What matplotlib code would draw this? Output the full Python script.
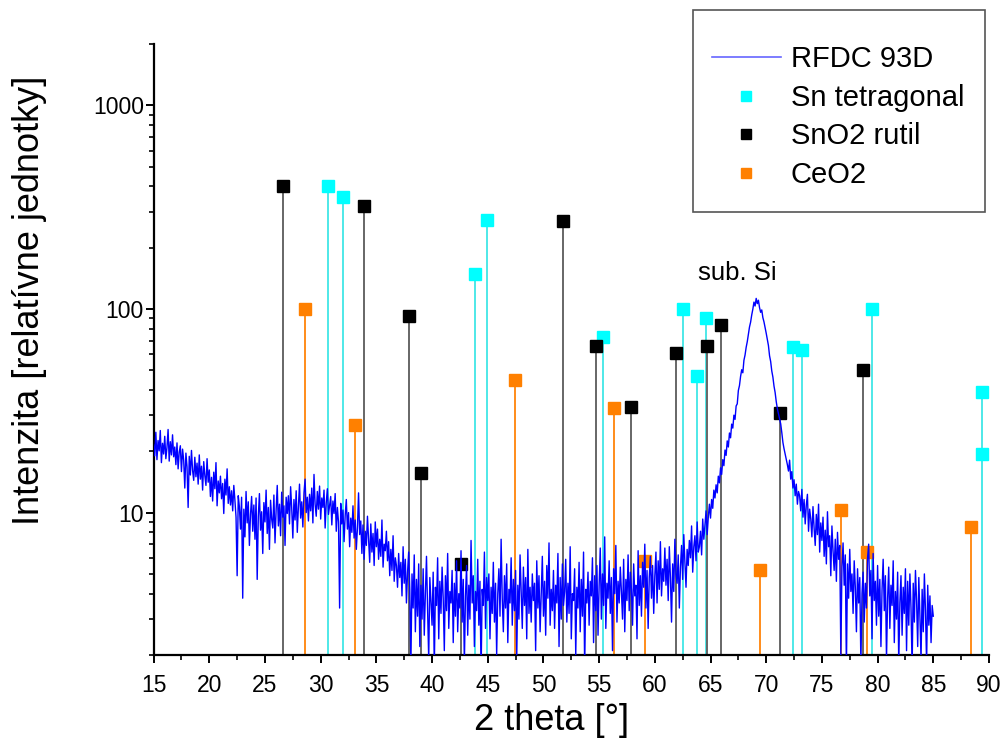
#!/usr/bin/env python3
"""XRD pattern of RFDC 93D with reference peak positions (Sn, SnO2, CeO2)."""

import matplotlib

matplotlib.use("Agg")
import matplotlib.pyplot as plt
import numpy as np
from matplotlib.lines import Line2D
from matplotlib.patches import Rectangle
from matplotlib.ticker import FixedLocator, NullFormatter

# measured pattern, 2theta scan from 15.0 deg in 0.1 deg steps
scan_start = 15.0
scan_step = 0.1
intensity = [
    21.5, 19.0, 24.8, 18.2, 22.6, 20.1, 25.3, 17.6, 21.9, 19.4,
    23.7, 18.4, 20.9, 25.6, 17.9, 22.3, 19.2, 24.1, 18.8, 21.0,
    17.2, 22.0, 16.4, 19.8, 21.3, 15.9, 20.5, 18.1, 13.2, 19.6,
    16.8, 10.6, 18.9, 15.3, 20.2, 16.1, 14.4, 18.7, 15.0, 17.5,
    13.8, 19.2, 14.6, 16.9, 12.9, 17.8, 15.2, 13.6, 18.4, 14.1,
    16.2, 12.0, 14.9, 11.4, 15.8, 13.1, 17.6, 10.8, 14.3, 12.5,
    15.1, 11.7, 13.9, 9.9, 14.6, 12.2, 16.4, 11.1, 13.4, 10.9,
    12.8, 10.2, 13.6, 11.5, 9.5, 4.9, 12.1, 10.7, 8.3, 11.9,
    3.8, 10.4, 7.6, 12.7, 8.9, 11.3, 6.9, 9.8, 12.0, 8.1,
    10.9, 7.4, 11.8, 4.7, 9.6, 12.4, 8.2, 10.1, 6.3, 11.2,
    9.0, 12.9, 7.9, 10.6, 6.6, 11.5, 9.3, 8.4, 12.2, 7.1,
    10.3, 13.6, 8.6, 11.0, 7.7, 12.6, 9.5, 10.8, 6.9, 11.9,
    9.9, 12.1, 8.8, 13.4, 10.5, 7.5, 11.6, 9.2, 12.8, 8.0,
    10.7, 13.8, 9.4, 11.3, 8.5, 12.5, 14.6, 10.0, 11.9, 9.1,
    12.3, 10.2, 13.2, 8.9, 15.4, 11.0, 9.6, 12.7, 10.4, 13.5,
    9.3, 11.8, 10.6, 12.9, 8.4, 11.2, 13.1, 9.8, 10.9, 12.0,
    8.7, 11.4, 9.9, 12.4, 8.1, 10.6, 9.0, 3.4, 11.1, 8.8,
    10.3, 7.2, 9.7, 11.6, 8.3, 10.0, 6.8, 9.4, 8.0, 10.8,
    7.5, 9.2, 6.6, 8.4, 12.5, 7.8, 9.1, 6.3, 8.7, 5.9,
    8.1, 6.9, 9.6, 7.3, 5.7, 8.8, 6.4, 7.9, 5.5, 9.0,
    6.8, 8.3, 5.9, 7.4, 6.1, 9.2, 5.4, 7.0, 6.5, 8.1,
    5.8, 7.2, 4.9, 6.6, 5.2, 7.7, 4.6, 6.0, 5.5, 4.3,
    6.3, 4.8, 5.7, 3.9, 6.8, 4.5, 5.9, 3.6, 5.1, 6.4,
    4.2, 1.8, 5.0, 3.4, 6.2, 2.6, 4.7, 3.1, 5.6, 2.2,
    4.4, 3.0, 5.3, 2.5, 4.0, 6.1, 3.3, 1.9, 4.8, 3.7,
    2.8, 5.1, 1.7, 4.3, 3.5, 6.0, 2.4, 4.6, 3.2, 5.4,
    3.8, 2.1, 4.9, 3.3, 6.3, 2.7, 4.1, 3.6, 5.2, 2.3,
    4.5, 3.1, 5.8, 2.6, 4.0, 3.4, 6.5, 2.9, 4.7, 1.8,
    3.9, 5.5, 2.5, 4.4, 3.0, 7.3, 3.6, 4.9, 2.2, 4.1,
    3.3, 5.9, 2.8, 4.6, 1.6, 4.2, 3.5, 6.4, 2.7, 4.8,
    3.7, 5.0, 2.4, 4.3, 3.2, 5.7, 2.9, 4.5, 2.0, 4.0,
    5.3, 3.1, 7.4, 3.8, 2.6, 4.9, 3.4, 5.6, 2.3, 4.2,
    3.6, 6.0, 2.8, 4.7, 3.3, 5.2, 1.9, 4.4, 3.0, 6.2,
    4.1, 2.7, 5.4, 3.5, 4.8, 2.4, 6.6, 3.2, 4.3, 2.9,
    5.0, 3.7, 4.5, 2.1, 5.8, 3.4, 4.9, 2.6, 4.0, 6.1,
    3.1, 4.6, 2.5, 5.5, 3.8, 7.1, 2.8, 4.2, 3.3, 5.2,
    2.7, 4.4, 3.6, 6.3, 2.2, 4.8, 3.0, 5.6, 3.5, 4.1,
    5.9, 2.9, 4.5, 3.2, 6.8, 2.4, 4.0, 3.7, 5.3, 2.0,
    4.3, 3.4, 5.7, 2.6, 4.7, 3.1, 6.4, 1.7, 4.2, 3.6,
    5.1, 2.8, 4.6, 3.9, 6.0, 2.3, 4.9, 3.3, 5.5, 2.5,
    4.4, 6.7, 3.0, 5.0, 3.5, 7.6, 2.7, 4.5, 3.8, 5.8,
    3.2, 4.8, 2.1, 5.3, 4.0, 6.9, 2.9, 4.6, 3.6, 5.4,
    4.1, 3.0, 5.9, 2.6, 4.7, 3.7, 6.2, 3.3, 5.1, 4.2,
    2.8, 5.6, 3.9, 4.4, 2.4, 6.5, 3.5, 4.9, 3.1, 5.7,
    4.3, 7.0, 3.4, 5.2, 2.7, 4.8, 6.1, 3.8, 5.5, 3.2,
    4.9, 6.4, 3.6, 5.8, 4.2, 7.2, 3.9, 5.3, 4.6, 6.7,
    4.4, 5.9, 3.7, 6.8, 4.8, 2.9, 5.6, 4.1, 7.4, 5.0,
    4.5, 6.2, 3.4, 5.4, 6.9, 4.7, 7.8, 5.7, 4.3, 6.6,
    5.5, 7.3, 6.0, 8.6, 5.1, 6.8, 7.7, 5.8, 9.0, 6.4,
    6.8, 8.1, 6.2, 9.3, 7.4, 8.7, 10.2, 7.8, 9.5, 11.0,
    9.4, 11.6, 10.5, 12.9, 11.8, 13.7, 12.5, 15.1, 14.0, 16.6,
    15.4, 18.2, 17.0, 20.3, 19.1, 22.5, 21.0, 24.6, 23.3, 27.2,
    26.0, 30.1, 28.7, 33.4, 34.2, 39.8, 42.1, 46.7,
    50.3, 48.6, 56.0, 59.4, 64.8, 69.1, 75.3, 81.6, 86.2, 93.5,
    99.8, 108.1, 103.4, 112.7, 106.2, 110.4, 101.6, 96.3, 98.9, 90.7,
    86.4, 81.2, 76.0, 70.8, 66.1, 58.9, 55.2, 49.6, 46.3, 41.8,
    38.9, 35.1, 32.4, 30.6, 29.0, 27.3, 24.7, 22.1, 20.6, 19.4, 18.3, 17.2,
    16.0, 18.1, 14.6, 15.9, 13.2, 14.5, 12.1, 13.8, 11.0, 12.7,
    12.1, 10.2, 13.0, 9.5, 11.6, 8.8, 10.9, 12.3, 8.1, 10.4,
    9.3, 7.6, 10.7, 8.4, 6.9, 9.8, 7.8, 11.0, 6.4, 8.9,
    7.3, 9.5, 6.1, 8.2, 5.6, 10.1, 6.8, 7.7, 4.9, 8.6,
    6.5, 5.2, 7.4, 4.6, 8.0, 5.9, 6.9, 2.0, 5.4, 7.1,
    4.4, 6.2, 1.7, 5.6, 3.8, 6.6, 4.1, 5.0, 3.2, 5.8,
    4.3, 2.6, 5.3, 3.6, 4.8, 1.8, 4.0, 5.1, 2.9, 4.5,
    3.4, 6.0, 7.0, 3.9, 5.2, 2.4, 6.3, 3.7, 4.6, 2.8,
    5.5, 3.1, 4.7, 2.2, 4.2, 5.9, 3.3, 4.9, 1.9, 3.8,
    5.4, 2.7, 4.4, 3.5, 5.8, 2.3, 4.1, 3.0, 5.1, 1.8,
    3.6, 4.9, 2.5, 4.3, 3.2, 5.3, 2.1, 4.6, 2.8, 5.0,
    3.4, 1.7, 4.5, 2.9, 5.2, 3.7, 2.2, 4.8, 3.1, 1.9,
    4.2, 2.6, 5.0, 3.3, 1.8, 4.4, 2.8, 3.9, 2.3, 3.5,
    3.1,
]

# reference peaks (position in 2theta, relative intensity)
sn_pos = [30.64, 32.02, 43.87, 44.90, 55.33, 62.54, 63.78, 64.58, 72.42, 73.19, 79.47, 89.39, 89.39]
sn_int = [400, 356, 148, 275, 73, 100, 47, 90, 65, 63, 100, 39, 19.5]

sno2_pos = [26.61, 33.89, 37.95, 38.97, 42.64, 51.78, 54.76, 57.82, 61.87, 64.72, 65.94, 71.28, 78.71]
sno2_int = [400, 322, 92, 15.6, 5.6, 271, 66, 33, 61, 66, 83, 31, 50]

ceo2_pos = [28.55, 33.08, 47.48, 56.34, 59.09, 69.42, 76.70, 79.07, 88.42]
ceo2_int = [100, 27, 45, 32.5, 5.8, 5.2, 10.3, 6.4, 8.5]

x_ticks = [15, 20, 25, 30, 35, 40, 45, 50, 55, 60, 65, 70, 75, 80, 85, 90]
y_ticks = [10, 100, 1000]
y_tick_labels = ["10", "100", "1000"]
legend_labels = ["RFDC 93D", "Sn tetragonal", "SnO2 rutil", "CeO2"]

Y_MIN, Y_MAX = 2.0, 2000.0


def draw_peaks(ax, pos, heights, marker_color, stem_color):
    ax.vlines(pos, Y_MIN, heights, colors=stem_color, linewidth=1.4, zorder=1)
    ax.plot(pos, heights, linestyle="none", marker="s", markersize=8.5,
            color=marker_color, zorder=2)


def main() -> None:
    plt.rcParams["font.family"] = ["Liberation Sans", "DejaVu Sans"]

    fig = plt.figure(figsize=(10.02, 7.55), dpi=100)
    ax = fig.add_axes([0.1533, 0.1325, 0.8337, 0.8092])

    two_theta = scan_start + scan_step * np.arange(len(intensity))

    draw_peaks(ax, sn_pos, sn_int, "#00ffff", "#4ee8e8")
    draw_peaks(ax, sno2_pos, sno2_int, "#000000", "#666666")
    draw_peaks(ax, ceo2_pos, ceo2_int, "#ff8000", "#ff8c1a")
    ax.plot(two_theta, intensity, color="#0000ff", linewidth=1.0, zorder=3)

    ax.text(67.4, 150, "sub. Si", fontsize=18.5, ha="center", va="center")

    ax.set_yscale("log")
    ax.set_xlim(15, 90)
    ax.set_ylim(Y_MIN, Y_MAX)

    ax.set_xticks(x_ticks)
    ax.xaxis.set_minor_locator(FixedLocator(np.arange(17.5, 90, 5.0)))
    ax.set_yticks(y_ticks, y_tick_labels)
    minor_y = [m * 10.0 ** e for e in range(0, 4) for m in range(2, 10)]
    ax.yaxis.set_minor_locator(FixedLocator(minor_y))
    ax.yaxis.set_minor_formatter(NullFormatter())

    ax.tick_params(which="major", direction="out", length=6, width=1.4, labelsize=16.5)
    ax.tick_params(which="minor", direction="out", length=3.5, width=1.2)
    ax.tick_params(axis="x", which="major", pad=8)
    ax.tick_params(axis="y", which="major", pad=1)
    for side in ("top", "right"):
        ax.spines[side].set_visible(False)
    for side in ("left", "bottom"):
        ax.spines[side].set_linewidth(1.6)

    ax.set_xlabel("2 theta [°]", fontsize=26)
    ax.xaxis.set_label_coords(0.476, -0.078)
    ax.set_ylabel("Intenzita [relatívne jednotky]", fontsize=26)
    ax.yaxis.set_label_coords(-0.128, 0.581)

    # legend: frame drawn separately so the box matches the original padding
    fig.patches.append(Rectangle((0.6916, 0.7192), 0.2914, 0.2675,
                                 transform=fig.transFigure, fill=False,
                                 edgecolor="#555555", linewidth=1.2))
    handles = [
        Line2D([], [], color="#6666ff", linewidth=1.2),
        Line2D([], [], linestyle="none", marker="s", markersize=7.5, color="#00ffff"),
        Line2D([], [], linestyle="none", marker="s", markersize=7.5, color="#000000"),
        Line2D([], [], linestyle="none", marker="s", markersize=7.5, color="#ff8000"),
    ]
    fig.legend(handles, legend_labels, loc="upper left",
               bbox_to_anchor=(712 / 1002, 0.9400), fontsize=21,
               frameon=False, borderpad=0, borderaxespad=0,
               labelspacing=0.36, handlelength=2.35, handletextpad=0.35)

    fig.savefig("out.png", dpi=100)
    plt.close(fig)


if __name__ == "__main__":
    main()
